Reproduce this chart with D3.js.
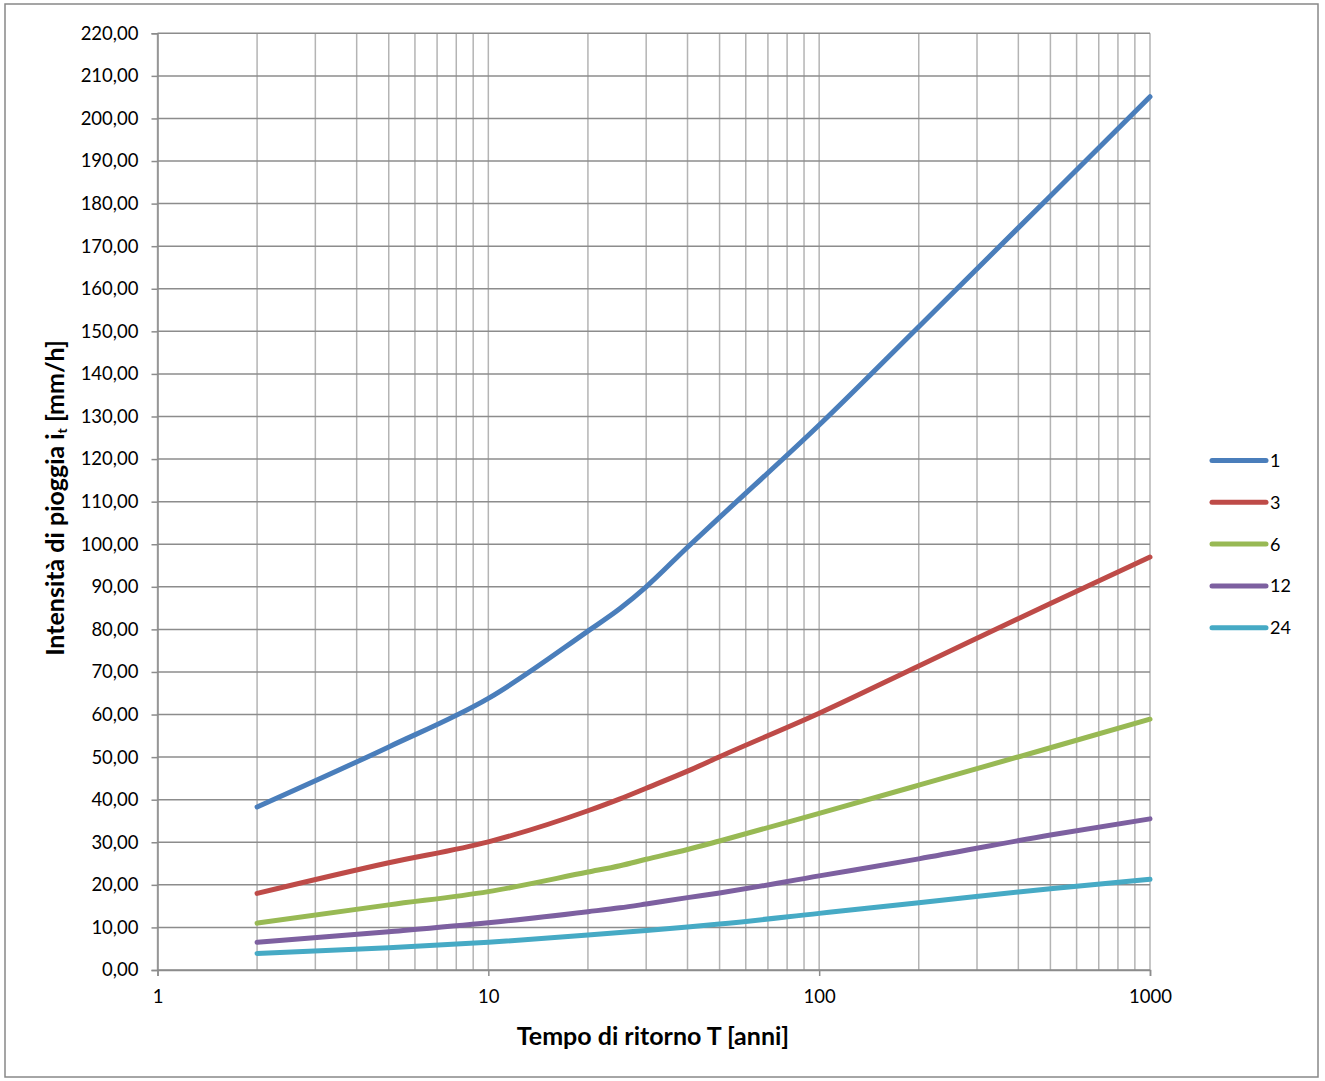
<!DOCTYPE html>
<html><head><meta charset="utf-8">
<script src="https://cdn.jsdelivr.net/npm/d3@7"></script>
<style>body{margin:0;background:#fff}svg{display:block}text{font-family:Lato,"Open Sans",sans-serif}</style>
</head><body>
<svg id="c" width="1325" height="1081"></svg>
<script>
const returnPeriods = [2, 5, 10, 20, 25, 30, 40, 50, 100, 200, 500, 1000];
const seriesNames = ["1", "3", "6", "12", "24"];
const s1  = [38.3, 52.4, 63.8, 79.6, 84.9, 90.0, 99.3, 106.3, 128.0, 151.1, 181.8, 205.1];
const s3  = [18.0, 25.2, 30.1, 37.4, 40.2, 42.7, 46.7, 50.1, 60.3, 71.4, 86.1, 97.0];
const s6  = [11.0, 15.3, 18.4, 23.0, 24.5, 26.0, 28.3, 30.3, 36.8, 43.4, 52.2, 58.9];
const s12 = [6.5, 9.0, 11.1, 13.7, 14.6, 15.5, 17.0, 18.1, 22.1, 26.1, 31.7, 35.5];
const s24 = [3.9, 5.2, 6.5, 8.2, 8.8, 9.3, 10.1, 10.8, 13.3, 15.8, 19.1, 21.3];
const seriesValues = [s1, s3, s6, s12, s24];
const colors = ["#4a7ebb", "#be4b48", "#98b954", "#7d60a0", "#46aac5"];
const yTicks = d3.range(0, 221, 10);
const xMajor = [1, 10, 100, 1000];

const svg = d3.select("#c");
svg.append("rect").attr("x",5).attr("y",4).attr("width",1313).attr("height",1073)
  .attr("fill","#fff").attr("stroke","#888").attr("stroke-width",1.5);

const L=157.5, R=1150, T=33.3, B=970;
const x = d3.scaleLog().domain([1,1000]).range([L,R]);
const y = d3.scaleLinear().domain([0,220]).range([B,T]);

const xMinor = [];
for (let d=1; d<1000; d*=10) for (let k=1;k<=10;k++) xMinor.push(d*k);
const g = svg.append("g");
g.selectAll("line.v").data(Array.from(new Set(xMinor))).join("line")
  .attr("x1",d=>x(d)).attr("x2",d=>x(d)).attr("y1",T).attr("y2",B)
  .attr("stroke","#b4b4b4").attr("stroke-width",1.5);
g.selectAll("line.h").data(yTicks).join("line")
  .attr("x1",L).attr("x2",R).attr("y1",d=>y(d)).attr("y2",d=>y(d))
  .attr("stroke","#8c8c8c").attr("stroke-width",1.5);

const fmt = d=>d3.format(".2f")(d).replace(".",",");
const ya = svg.append("g").attr("transform",`translate(${L},0)`)
  .call(d3.axisLeft(y).tickValues(yTicks).tickFormat(fmt).tickSize(6).tickPadding(13));
const xa = svg.append("g").attr("transform",`translate(0,${B})`)
  .call(d3.axisBottom(x).tickValues(xMajor).tickFormat(d3.format("d")).tickSize(6).tickPadding(14));
[ya,xa].forEach(a=>{
  a.select(".domain").attr("stroke","#8c8c8c").attr("stroke-width",1.5);
  a.selectAll(".tick line").attr("stroke","#8c8c8c").attr("stroke-width",1.5);
  a.selectAll("text").attr("font-size",18.5).attr("fill","#000").style("font-family","Lato,'Open Sans',sans-serif");
});

const line = d3.line().x(d=>x(d[0])).y(d=>y(d[1])).curve(d3.curveMonotoneX);
seriesValues.forEach((vals,i)=>{
  svg.append("path").datum(returnPeriods.map((t,j)=>[t,vals[j]]))
    .attr("d",line).attr("fill","none").attr("stroke",colors[i])
    .attr("stroke-width",5).attr("stroke-linecap","round").attr("stroke-linejoin","round");
});

seriesNames.forEach((n,i)=>{
  const ly = 460.5 + i*41.8;
  svg.append("line").attr("x1",1212).attr("x2",1266).attr("y1",ly).attr("y2",ly)
    .attr("stroke",colors[i]).attr("stroke-width",5).attr("stroke-linecap","round");
  svg.append("text").attr("x",1270).attr("y",ly+6.5).attr("font-size",18).text(n);
});

svg.append("text").attr("x",653).attr("y",1045).attr("text-anchor","middle")
  .attr("font-size",25).attr("font-weight","bold").text("Tempo di ritorno T [anni]");
const yt = svg.append("text").attr("transform","translate(64,498) rotate(-90)")
  .attr("text-anchor","middle").attr("font-size",25).attr("font-weight","bold");
yt.append("tspan").text("Intensità di pioggia i");
yt.append("tspan").attr("font-size",14).attr("dy",3).text("t");
yt.append("tspan").attr("dy",-3).text(" [mm/h]");
</script>
</body></html>
